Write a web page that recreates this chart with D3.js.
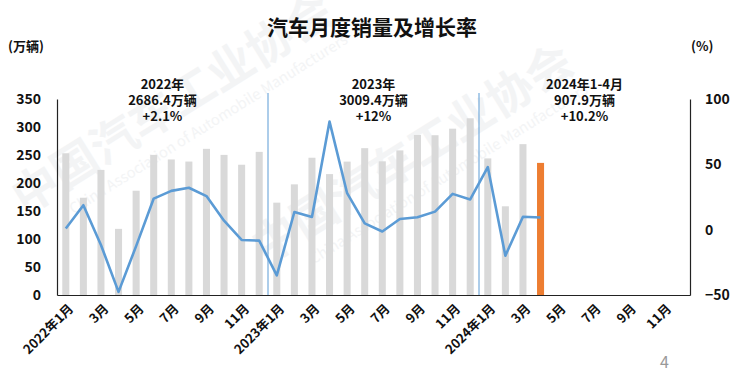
<!DOCTYPE html>
<html>
<head>
<meta charset="utf-8">
<script src="https://cdn.jsdelivr.net/npm/d3@7"></script>
<style>
  body { margin: 0; background: #fff; }
  text { font-family: "Noto Sans CJK SC", "Noto Sans", sans-serif; }
</style>
</head>
<body>
<svg id="chart" width="745" height="379"></svg>
<script>
// months on the x axis, 2022-01 .. 2024-12
const years = [2022, 2023, 2024]
const months = []
years.forEach(y => { for (let m = 1; m <= 12; m++) months.push(y + '-' + m) })

// monthly sales, 10k vehicles
const sales = [
  253.1, 173.7, 223.4, 118.1, 186.2, 250.2, 242.0, 238.3, 261.0, 250.2, 232.6, 255.6,
  164.9, 197.6, 245.1, 215.9, 238.2, 262.2, 238.7, 258.2, 285.8, 285.3, 297.0, 315.6,
  243.9, 158.4, 269.4, 235.9
]
// year on year growth, %
const growth = [
  0.9, 18.7, -11.7, -47.6, -12.6, 23.8, 29.7, 32.1, 25.7, 6.9, -7.9, -8.4,
  -35.0, 13.5, 9.7, 82.7, 27.9, 4.8, -1.4, 8.2, 9.5, 13.8, 27.4, 23.1,
  47.9, -19.9, 9.9, 9.3
]
const leftTicks = [0, 50, 100, 150, 200, 250, 300, 350]
const rightTicks = [-50, 0, 50, 100]
const yearNotes = [
  ['2022年', '2686.4万辆', '+2.1%'],
  ['2023年', '3009.4万辆', '+12%'],
  ['2024年1-4月', '907.9万辆', '+10.2%']
]

const svg = d3.select('#chart')
const plotLeft = 57
const plotRight = 690
const plotTop = 99
const plotBottom = 295

// very faint watermark behind the chart
function watermark (x, y, size) {
  const g = svg.append('g').attr('transform', `translate(${x},${y}) rotate(-32)`)
    .attr('opacity', 0.6)
  g.append('text').text('中国汽车工业协会')
    .attr('font-size', size).attr('font-weight', 'bold')
    .attr('fill', '#eceef0')
  g.append('text').text('China Association of Automobile Manufacturers')
    .attr('x', size * 0.9).attr('y', size * 0.55)
    .attr('font-size', size * 0.32)
    .attr('fill', '#eceef0')
}
watermark(25, 215, 46)
watermark(265, 265, 46)

const x = d3.scaleBand()
  .domain(months)
  .range([plotLeft, plotRight])
  .paddingInner(0.6)
  .paddingOuter(0.3)

const yL = d3.scaleLinear().domain([0, 350]).range([plotBottom, plotTop])
const yR = d3.scaleLinear().domain([-50, 100]).range([plotBottom, plotTop])

// bars
svg.append('g')
  .selectAll('rect')
  .data(sales)
  .join('rect')
  .attr('x', (d, i) => x(months[i]))
  .attr('y', d => yL(d))
  .attr('width', x.bandwidth())
  .attr('height', d => plotBottom - yL(d))
  .attr('fill', (d, i) => i === sales.length - 1 ? '#ed7d31' : '#d9d9d9')

// year separators
const step = x.step()
;[12, 24].forEach(i => {
  const sx = x(months[i]) - (step - x.bandwidth()) / 2
  svg.append('line')
    .attr('x1', sx).attr('x2', sx)
    .attr('y1', 93).attr('y2', plotBottom)
    .attr('stroke', '#5b9bd5').attr('stroke-width', 1)
})

// growth line
const line = d3.line()
  .x((d, i) => x(months[i]) + x.bandwidth() / 2)
  .y(d => yR(d))
svg.append('path')
  .datum(growth)
  .attr('d', line)
  .attr('fill', 'none')
  .attr('stroke', '#5b9bd5')
  .attr('stroke-width', 2.6)
  .attr('stroke-linejoin', 'round')

// axes
const axL = svg.append('g').attr('transform', `translate(${plotLeft},0)`)
  .call(d3.axisLeft(yL).tickValues(leftTicks).tickSize(0).tickPadding(16))
const axR = svg.append('g').attr('transform', `translate(${plotRight},0)`)
  .call(d3.axisRight(yR).tickValues(rightTicks).tickSize(0).tickPadding(15))
const axB = svg.append('g').attr('transform', `translate(0,${plotBottom})`)
  .call(d3.axisBottom(x).tickSize(0).tickFormat(''))

;[axL, axR, axB].forEach(a => {
  a.select('.domain').attr('stroke', '#222').attr('stroke-width', 1.2)
  a.selectAll('text')
    .attr('font-size', 14)
    .attr('font-weight', 'bold')
    .attr('fill', '#111')
    .style('font-family', '"Noto Sans CJK SC", sans-serif')
})
axR.selectAll('text').attr('text-anchor', 'start')

// rotated month labels, every other month
months.forEach((m, i) => {
  if (i % 2 !== 0) return
  const mo = i % 12 + 1
  const label = mo === 1 ? years[Math.floor(i / 12)] + '年1月' : mo + '月'
  const cx = x(m) + x.bandwidth() / 2 + 6
  svg.append('text')
    .attr('transform', `translate(${cx},${plotBottom + 12}) rotate(-45)`)
    .attr('text-anchor', 'end')
    .attr('dominant-baseline', 'middle')
    .attr('font-size', 13)
    .attr('font-weight', 'bold')
    .attr('fill', '#111')
    .text(label)
})

// year annotations
yearNotes.forEach((lines, k) => {
  const cx = (x(months[k * 12 + 5]) + x(months[k * 12 + 6])) / 2 + x.bandwidth() / 2
  lines.forEach((t, j) => {
    svg.append('text')
      .attr('x', cx)
      .attr('y', 89 + j * 16)
      .attr('text-anchor', 'middle')
      .attr('font-size', 13)
      .attr('font-weight', 'bold')
      .attr('fill', '#111')
      .text(t)
  })
})

// title and units
svg.append('text')
  .attr('x', 372).attr('y', 35)
  .attr('text-anchor', 'middle')
  .attr('font-size', 21)
  .attr('font-weight', 'bold')
  .attr('fill', '#111')
  .text('汽车月度销量及增长率')

svg.append('text')
  .attr('x', 8).attr('y', 51)
  .attr('font-size', 13).attr('font-weight', 'bold').attr('fill', '#111')
  .text('(万辆)')

svg.append('text')
  .attr('x', 691).attr('y', 51)
  .attr('font-size', 13).attr('font-weight', 'bold').attr('fill', '#111')
  .text('(%)')

svg.append('text')
  .attr('x', 660).attr('y', 368)
  .attr('font-size', 16).attr('fill', '#999')
  .text('4')
</script>
</body>
</html>
